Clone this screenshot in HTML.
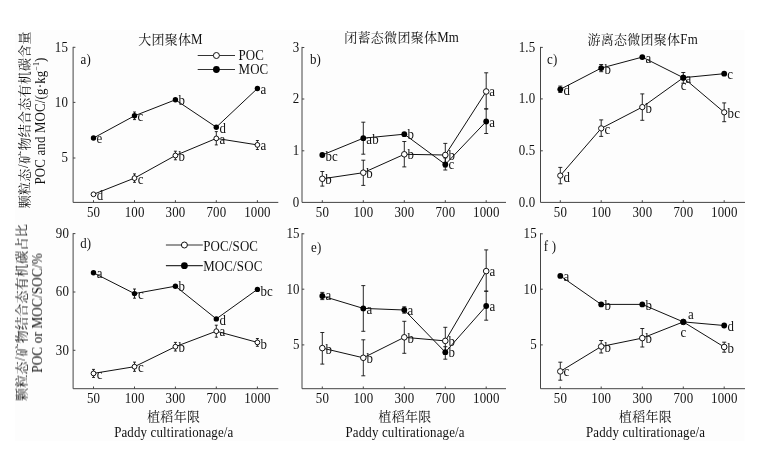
<!DOCTYPE html>
<html><head><meta charset="utf-8"><title>chart</title>
<style>
html,body{margin:0;padding:0;background:#fff;}
body{width:767px;height:449px;overflow:hidden;font-family:"Liberation Serif",serif;}
svg{display:block;will-change:transform;}
svg text{font-family:"Liberation Serif",serif;fill:#111;}
svg text.cjk{font-family:"Liberation Serif","Noto Serif CJK SC",serif;}
</style></head><body>
<svg width="767" height="449" viewBox="0 0 767 449">
<g fill="#111">
<rect x="15" y="30" width="729.5" height="411" fill="#fdfdfd"/>
<path d="M73.10 46.90V202.40H278.30" stroke="#444" stroke-width="1.0" fill="none"/>
<path d="M73.10 47.30h2.3M73.10 102.40h2.3M73.10 158.00h2.3M93.50 202.40v-2.2M134.50 202.40v-2.2M175.40 202.40v-2.2M216.30 202.40v-2.2M257.40 202.40v-2.2" stroke="#444" stroke-width="1" fill="none"/>
<text transform="translate(68.06,51.70) scale(0.91,1)" font-size="14.20" letter-spacing="0.176" text-anchor="end" >15</text>
<text transform="translate(68.06,106.80) scale(0.91,1)" font-size="14.20" letter-spacing="0.176" text-anchor="end" >10</text>
<text transform="translate(68.06,162.40) scale(0.91,1)" font-size="14.20" letter-spacing="0.176" text-anchor="end" >5</text>
<text transform="translate(93.58,217.20) scale(0.91,1)" font-size="14.20" letter-spacing="0.176" text-anchor="middle" >50</text>
<text transform="translate(134.58,217.20) scale(0.91,1)" font-size="14.20" letter-spacing="0.176" text-anchor="middle" >100</text>
<text transform="translate(175.48,217.20) scale(0.91,1)" font-size="14.20" letter-spacing="0.176" text-anchor="middle" >300</text>
<text transform="translate(216.38,217.20) scale(0.91,1)" font-size="14.20" letter-spacing="0.176" text-anchor="middle" >700</text>
<text transform="translate(257.48,217.20) scale(0.91,1)" font-size="14.20" letter-spacing="0.176" text-anchor="middle" >1000</text>
<path d="M93.50 194.30 L134.50 178.10 L175.40 155.50 L216.30 138.40 L257.40 144.90" stroke="#111" stroke-width="1.0" fill="none"/>
<path d="M93.50 138.00 L134.50 115.80 L175.40 99.80 L216.30 127.20 L257.40 88.50" stroke="#111" stroke-width="1.0" fill="none"/>
<path d="M134.50 173.90V182.30M133.00 173.90H136.00M133.00 182.30H136.00" stroke="#111" stroke-width="0.9" fill="none"/>
<path d="M175.40 151.20V159.80M173.90 151.20H176.90M173.90 159.80H176.90" stroke="#111" stroke-width="0.9" fill="none"/>
<path d="M216.30 131.60V144.90M214.80 131.60H217.80M214.80 144.90H217.80" stroke="#111" stroke-width="0.9" fill="none"/>
<path d="M257.40 140.50V149.50M255.90 140.50H258.90M255.90 149.50H258.90" stroke="#111" stroke-width="0.9" fill="none"/>
<path d="M134.50 112.00V119.60M133.00 112.00H136.00M133.00 119.60H136.00" stroke="#111" stroke-width="0.9" fill="none"/>
<circle cx="93.50" cy="194.30" r="2.4" fill="#fff" stroke="#111" stroke-width="1"/>
<circle cx="134.50" cy="178.10" r="2.4" fill="#fff" stroke="#111" stroke-width="1"/>
<circle cx="175.40" cy="155.50" r="2.4" fill="#fff" stroke="#111" stroke-width="1"/>
<circle cx="216.30" cy="138.40" r="2.4" fill="#fff" stroke="#111" stroke-width="1"/>
<circle cx="257.40" cy="144.90" r="2.4" fill="#fff" stroke="#111" stroke-width="1"/>
<circle cx="93.50" cy="138.00" r="2.7" fill="#000"/>
<circle cx="134.50" cy="115.80" r="2.7" fill="#000"/>
<circle cx="175.40" cy="99.80" r="2.7" fill="#000"/>
<circle cx="216.30" cy="127.20" r="2.7" fill="#000"/>
<circle cx="257.40" cy="88.50" r="2.7" fill="#000"/>
<text transform="translate(96.60,143.40) scale(0.91,1)" font-size="14.20" letter-spacing="0.176" text-anchor="start" >e</text>
<text transform="translate(137.60,121.00) scale(0.91,1)" font-size="14.20" letter-spacing="0.176" text-anchor="start" >c</text>
<text transform="translate(178.40,104.90) scale(0.91,1)" font-size="14.20" letter-spacing="0.176" text-anchor="start" >b</text>
<text transform="translate(219.40,132.50) scale(0.91,1)" font-size="14.20" letter-spacing="0.176" text-anchor="start" >d</text>
<text transform="translate(260.40,93.70) scale(0.91,1)" font-size="14.20" letter-spacing="0.176" text-anchor="start" >a</text>
<text transform="translate(96.80,199.80) scale(0.91,1)" font-size="14.20" letter-spacing="0.176" text-anchor="start" >d</text>
<text transform="translate(137.80,183.50) scale(0.91,1)" font-size="14.20" letter-spacing="0.176" text-anchor="start" >c</text>
<text transform="translate(178.40,161.20) scale(0.91,1)" font-size="14.20" letter-spacing="0.176" text-anchor="start" >b</text>
<text transform="translate(219.60,143.50) scale(0.91,1)" font-size="14.20" letter-spacing="0.176" text-anchor="start" >a</text>
<text transform="translate(260.40,150.20) scale(0.91,1)" font-size="14.20" letter-spacing="0.176" text-anchor="start" >a</text>
<text transform="translate(80.60,63.50) scale(0.91,1)" font-size="14.20" letter-spacing="0.176" text-anchor="start" >a)</text>
<path d="M302.00 46.90V202.40H506.00" stroke="#444" stroke-width="1.0" fill="none"/>
<path d="M302.00 47.50h2.3M302.00 99.00h2.3M302.00 150.80h2.3M322.30 202.40v-2.2M363.30 202.40v-2.2M404.30 202.40v-2.2M445.30 202.40v-2.2M486.20 202.40v-2.2" stroke="#444" stroke-width="1" fill="none"/>
<text transform="translate(299.36,51.90) scale(0.91,1)" font-size="14.20" letter-spacing="0.176" text-anchor="end" >3</text>
<text transform="translate(299.36,103.40) scale(0.91,1)" font-size="14.20" letter-spacing="0.176" text-anchor="end" >2</text>
<text transform="translate(299.36,155.20) scale(0.91,1)" font-size="14.20" letter-spacing="0.176" text-anchor="end" >1</text>
<text transform="translate(299.36,206.80) scale(0.91,1)" font-size="14.20" letter-spacing="0.176" text-anchor="end" >0</text>
<text transform="translate(322.38,217.20) scale(0.91,1)" font-size="14.20" letter-spacing="0.176" text-anchor="middle" >50</text>
<text transform="translate(363.38,217.20) scale(0.91,1)" font-size="14.20" letter-spacing="0.176" text-anchor="middle" >100</text>
<text transform="translate(404.38,217.20) scale(0.91,1)" font-size="14.20" letter-spacing="0.176" text-anchor="middle" >300</text>
<text transform="translate(445.38,217.20) scale(0.91,1)" font-size="14.20" letter-spacing="0.176" text-anchor="middle" >700</text>
<text transform="translate(486.28,217.20) scale(0.91,1)" font-size="14.20" letter-spacing="0.176" text-anchor="middle" >1000</text>
<path d="M322.30 178.80 L363.30 172.70 L404.30 154.30 L445.30 155.00 L486.20 91.50" stroke="#111" stroke-width="1.0" fill="none"/>
<path d="M322.30 155.00 L363.30 138.20 L404.30 134.20 L445.30 164.40 L486.20 121.50" stroke="#111" stroke-width="1.0" fill="none"/>
<path d="M322.30 171.50V186.10M320.30 171.50H324.30M320.30 186.10H324.30" stroke="#111" stroke-width="0.9" fill="none"/>
<path d="M363.30 160.20V185.40M361.30 160.20H365.30M361.30 185.40H365.30" stroke="#111" stroke-width="0.9" fill="none"/>
<path d="M404.30 141.50V166.90M402.30 141.50H406.30M402.30 166.90H406.30" stroke="#111" stroke-width="0.9" fill="none"/>
<path d="M445.30 143.40V167.00M443.30 143.40H447.30M443.30 167.00H447.30" stroke="#111" stroke-width="0.9" fill="none"/>
<path d="M486.20 72.80V108.90M484.20 72.80H488.20M484.20 108.90H488.20" stroke="#111" stroke-width="0.9" fill="none"/>
<path d="M363.30 122.20V154.20M361.30 122.20H365.30M361.30 154.20H365.30" stroke="#111" stroke-width="0.9" fill="none"/>
<path d="M445.30 157.90V170.00M443.30 157.90H447.30M443.30 170.00H447.30" stroke="#111" stroke-width="0.9" fill="none"/>
<path d="M486.20 108.90V133.50M484.20 108.90H488.20M484.20 133.50H488.20" stroke="#111" stroke-width="0.9" fill="none"/>
<circle cx="322.30" cy="178.80" r="2.8" fill="#fff" stroke="#111" stroke-width="1"/>
<circle cx="363.30" cy="172.70" r="2.8" fill="#fff" stroke="#111" stroke-width="1"/>
<circle cx="404.30" cy="154.30" r="2.8" fill="#fff" stroke="#111" stroke-width="1"/>
<circle cx="445.30" cy="155.00" r="2.8" fill="#fff" stroke="#111" stroke-width="1"/>
<circle cx="486.20" cy="91.50" r="2.8" fill="#fff" stroke="#111" stroke-width="1"/>
<circle cx="322.30" cy="155.00" r="2.9" fill="#000"/>
<circle cx="363.30" cy="138.20" r="2.9" fill="#000"/>
<circle cx="404.30" cy="134.20" r="2.9" fill="#000"/>
<circle cx="445.30" cy="164.40" r="2.9" fill="#000"/>
<circle cx="486.20" cy="121.50" r="2.9" fill="#000"/>
<text transform="translate(325.50,160.70) scale(0.91,1)" font-size="14.20" letter-spacing="0.176" text-anchor="start" >bc</text>
<text transform="translate(366.30,144.00) scale(0.91,1)" font-size="14.20" letter-spacing="0.176" text-anchor="start" >ab</text>
<text transform="translate(407.40,139.00) scale(0.91,1)" font-size="14.20" letter-spacing="0.176" text-anchor="start" >b</text>
<text transform="translate(448.50,169.20) scale(0.91,1)" font-size="14.20" letter-spacing="0.176" text-anchor="start" >c</text>
<text transform="translate(489.30,126.70) scale(0.91,1)" font-size="14.20" letter-spacing="0.176" text-anchor="start" >a</text>
<text transform="translate(325.30,184.00) scale(0.91,1)" font-size="14.20" letter-spacing="0.176" text-anchor="start" >b</text>
<text transform="translate(366.30,177.70) scale(0.91,1)" font-size="14.20" letter-spacing="0.176" text-anchor="start" >b</text>
<text transform="translate(407.40,159.40) scale(0.91,1)" font-size="14.20" letter-spacing="0.176" text-anchor="start" >b</text>
<text transform="translate(448.50,160.20) scale(0.91,1)" font-size="14.20" letter-spacing="0.176" text-anchor="start" >b</text>
<text transform="translate(489.30,96.20) scale(0.91,1)" font-size="14.20" letter-spacing="0.176" text-anchor="start" >a</text>
<text transform="translate(310.00,63.50) scale(0.91,1)" font-size="14.20" letter-spacing="0.176" text-anchor="start" >b)</text>
<path d="M540.50 46.90V202.40H745.00" stroke="#444" stroke-width="1.0" fill="none"/>
<path d="M540.50 47.40h2.3M540.50 98.90h2.3M540.50 150.80h2.3M560.30 202.40v-2.2M601.20 202.40v-2.2M642.30 202.40v-2.2M683.30 202.40v-2.2M724.20 202.40v-2.2" stroke="#444" stroke-width="1" fill="none"/>
<text transform="translate(535.36,51.80) scale(0.91,1)" font-size="14.20" letter-spacing="0.176" text-anchor="end" >1.5</text>
<text transform="translate(535.36,103.30) scale(0.91,1)" font-size="14.20" letter-spacing="0.176" text-anchor="end" >1.0</text>
<text transform="translate(535.36,155.20) scale(0.91,1)" font-size="14.20" letter-spacing="0.176" text-anchor="end" >0.5</text>
<text transform="translate(535.36,206.80) scale(0.91,1)" font-size="14.20" letter-spacing="0.176" text-anchor="end" >0.0</text>
<text transform="translate(560.38,217.20) scale(0.91,1)" font-size="14.20" letter-spacing="0.176" text-anchor="middle" >50</text>
<text transform="translate(601.28,217.20) scale(0.91,1)" font-size="14.20" letter-spacing="0.176" text-anchor="middle" >100</text>
<text transform="translate(642.38,217.20) scale(0.91,1)" font-size="14.20" letter-spacing="0.176" text-anchor="middle" >300</text>
<text transform="translate(683.38,217.20) scale(0.91,1)" font-size="14.20" letter-spacing="0.176" text-anchor="middle" >700</text>
<text transform="translate(724.28,217.20) scale(0.91,1)" font-size="14.20" letter-spacing="0.176" text-anchor="middle" >1000</text>
<path d="M560.30 175.60 L601.20 128.40 L642.30 107.10 L683.30 77.70 L724.20 112.30" stroke="#111" stroke-width="1.0" fill="none"/>
<path d="M560.30 89.30 L601.20 68.10 L642.30 57.10 L683.30 77.70 L724.20 73.70" stroke="#111" stroke-width="1.0" fill="none"/>
<path d="M560.30 167.40V183.80M558.30 167.40H562.30M558.30 183.80H562.30" stroke="#111" stroke-width="0.9" fill="none"/>
<path d="M601.20 119.90V136.40M599.20 119.90H603.20M599.20 136.40H603.20" stroke="#111" stroke-width="0.9" fill="none"/>
<path d="M642.30 93.90V120.30M640.30 93.90H644.30M640.30 120.30H644.30" stroke="#111" stroke-width="0.9" fill="none"/>
<path d="M683.30 72.50V83.20M681.30 72.50H685.30M681.30 83.20H685.30" stroke="#111" stroke-width="0.9" fill="none"/>
<path d="M724.20 102.90V121.70M722.20 102.90H726.20M722.20 121.70H726.20" stroke="#111" stroke-width="0.9" fill="none"/>
<path d="M560.30 86.10V92.50M558.30 86.10H562.30M558.30 92.50H562.30" stroke="#111" stroke-width="0.9" fill="none"/>
<path d="M601.20 64.50V71.70M599.20 64.50H603.20M599.20 71.70H603.20" stroke="#111" stroke-width="0.9" fill="none"/>
<circle cx="560.30" cy="175.60" r="2.65" fill="#fff" stroke="#111" stroke-width="1"/>
<circle cx="601.20" cy="128.40" r="2.65" fill="#fff" stroke="#111" stroke-width="1"/>
<circle cx="642.30" cy="107.10" r="2.65" fill="#fff" stroke="#111" stroke-width="1"/>
<circle cx="683.30" cy="77.70" r="2.65" fill="#fff" stroke="#111" stroke-width="1"/>
<circle cx="724.20" cy="112.30" r="2.65" fill="#fff" stroke="#111" stroke-width="1"/>
<circle cx="560.30" cy="89.30" r="2.9" fill="#000"/>
<circle cx="601.20" cy="68.10" r="2.9" fill="#000"/>
<circle cx="642.30" cy="57.10" r="2.9" fill="#000"/>
<circle cx="683.30" cy="77.70" r="2.9" fill="#000"/>
<circle cx="724.20" cy="73.70" r="2.9" fill="#000"/>
<text transform="translate(563.40,95.00) scale(0.91,1)" font-size="14.20" letter-spacing="0.176" text-anchor="start" >d</text>
<text transform="translate(604.40,73.80) scale(0.91,1)" font-size="14.20" letter-spacing="0.176" text-anchor="start" >b</text>
<text transform="translate(645.40,62.60) scale(0.91,1)" font-size="14.20" letter-spacing="0.176" text-anchor="start" >a</text>
<text transform="translate(685.40,83.30) scale(0.91,1)" font-size="14.20" letter-spacing="0.176" text-anchor="start" >a</text>
<text transform="translate(727.30,79.00) scale(0.91,1)" font-size="14.20" letter-spacing="0.176" text-anchor="start" >c</text>
<text transform="translate(563.40,181.60) scale(0.91,1)" font-size="14.20" letter-spacing="0.176" text-anchor="start" >d</text>
<text transform="translate(604.40,133.80) scale(0.91,1)" font-size="14.20" letter-spacing="0.176" text-anchor="start" >c</text>
<text transform="translate(645.40,112.80) scale(0.91,1)" font-size="14.20" letter-spacing="0.176" text-anchor="start" >b</text>
<text transform="translate(680.80,90.00) scale(0.91,1)" font-size="14.20" letter-spacing="0.176" text-anchor="start" >c</text>
<text transform="translate(727.60,118.00) scale(0.91,1)" font-size="14.20" letter-spacing="0.176" text-anchor="start" >bc</text>
<text transform="translate(547.00,63.80) scale(0.91,1)" font-size="14.20" letter-spacing="0.176" text-anchor="start" >c)</text>
<path d="M73.10 233.20V388.70H278.30" stroke="#444" stroke-width="1.0" fill="none"/>
<path d="M73.10 233.60h2.3M73.10 292.00h2.3M73.10 350.30h2.3M93.50 388.70v-2.2M134.50 388.70v-2.2M175.40 388.70v-2.2M216.30 388.70v-2.2M257.40 388.70v-2.2" stroke="#444" stroke-width="1" fill="none"/>
<text transform="translate(69.06,238.00) scale(0.91,1)" font-size="14.20" letter-spacing="0.176" text-anchor="end" >90</text>
<text transform="translate(69.06,296.40) scale(0.91,1)" font-size="14.20" letter-spacing="0.176" text-anchor="end" >60</text>
<text transform="translate(69.06,354.70) scale(0.91,1)" font-size="14.20" letter-spacing="0.176" text-anchor="end" >30</text>
<text transform="translate(93.58,403.20) scale(0.91,1)" font-size="14.20" letter-spacing="0.176" text-anchor="middle" >50</text>
<text transform="translate(134.58,403.20) scale(0.91,1)" font-size="14.20" letter-spacing="0.176" text-anchor="middle" >100</text>
<text transform="translate(175.48,403.20) scale(0.91,1)" font-size="14.20" letter-spacing="0.176" text-anchor="middle" >300</text>
<text transform="translate(216.38,403.20) scale(0.91,1)" font-size="14.20" letter-spacing="0.176" text-anchor="middle" >700</text>
<text transform="translate(257.48,403.20) scale(0.91,1)" font-size="14.20" letter-spacing="0.176" text-anchor="middle" >1000</text>
<path d="M93.50 373.40 L134.50 366.70 L175.40 346.70 L216.30 331.20 L257.40 342.40" stroke="#111" stroke-width="1.0" fill="none"/>
<path d="M93.50 272.80 L134.50 293.60 L175.40 286.20 L216.30 318.90 L257.40 289.40" stroke="#111" stroke-width="1.0" fill="none"/>
<path d="M93.50 369.40V377.40M92.00 369.40H95.00M92.00 377.40H95.00" stroke="#111" stroke-width="0.9" fill="none"/>
<path d="M134.50 362.10V371.30M133.00 362.10H136.00M133.00 371.30H136.00" stroke="#111" stroke-width="0.9" fill="none"/>
<path d="M175.40 342.40V351.00M173.90 342.40H176.90M173.90 351.00H176.90" stroke="#111" stroke-width="0.9" fill="none"/>
<path d="M216.30 325.20V337.20M214.80 325.20H217.80M214.80 337.20H217.80" stroke="#111" stroke-width="0.9" fill="none"/>
<path d="M257.40 338.50V346.30M255.90 338.50H258.90M255.90 346.30H258.90" stroke="#111" stroke-width="0.9" fill="none"/>
<path d="M134.50 289.00V298.20M133.00 289.00H136.00M133.00 298.20H136.00" stroke="#111" stroke-width="0.9" fill="none"/>
<circle cx="93.50" cy="373.40" r="2.4" fill="#fff" stroke="#111" stroke-width="1"/>
<circle cx="134.50" cy="366.70" r="2.4" fill="#fff" stroke="#111" stroke-width="1"/>
<circle cx="175.40" cy="346.70" r="2.4" fill="#fff" stroke="#111" stroke-width="1"/>
<circle cx="216.30" cy="331.20" r="2.4" fill="#fff" stroke="#111" stroke-width="1"/>
<circle cx="257.40" cy="342.40" r="2.4" fill="#fff" stroke="#111" stroke-width="1"/>
<circle cx="93.50" cy="272.80" r="2.7" fill="#000"/>
<circle cx="134.50" cy="293.60" r="2.7" fill="#000"/>
<circle cx="175.40" cy="286.20" r="2.7" fill="#000"/>
<circle cx="216.30" cy="318.90" r="2.7" fill="#000"/>
<circle cx="257.40" cy="289.40" r="2.7" fill="#000"/>
<text transform="translate(96.80,278.00) scale(0.91,1)" font-size="14.20" letter-spacing="0.176" text-anchor="start" >a</text>
<text transform="translate(138.00,299.30) scale(0.91,1)" font-size="14.20" letter-spacing="0.176" text-anchor="start" >c</text>
<text transform="translate(178.60,291.40) scale(0.91,1)" font-size="14.20" letter-spacing="0.176" text-anchor="start" >b</text>
<text transform="translate(219.60,325.20) scale(0.91,1)" font-size="14.20" letter-spacing="0.176" text-anchor="start" >d</text>
<text transform="translate(260.50,295.50) scale(0.91,1)" font-size="14.20" letter-spacing="0.176" text-anchor="start" >bc</text>
<text transform="translate(96.80,378.60) scale(0.91,1)" font-size="14.20" letter-spacing="0.176" text-anchor="start" >c</text>
<text transform="translate(138.00,372.30) scale(0.91,1)" font-size="14.20" letter-spacing="0.176" text-anchor="start" >c</text>
<text transform="translate(178.60,352.00) scale(0.91,1)" font-size="14.20" letter-spacing="0.176" text-anchor="start" >b</text>
<text transform="translate(219.60,336.20) scale(0.91,1)" font-size="14.20" letter-spacing="0.176" text-anchor="start" >a</text>
<text transform="translate(260.50,348.50) scale(0.91,1)" font-size="14.20" letter-spacing="0.176" text-anchor="start" >b</text>
<text transform="translate(80.20,248.00) scale(0.91,1)" font-size="14.20" letter-spacing="0.176" text-anchor="start" >d)</text>
<path d="M302.00 233.20V388.70H506.00" stroke="#444" stroke-width="1.0" fill="none"/>
<path d="M302.00 233.80h2.3M302.00 289.20h2.3M302.00 344.90h2.3M322.30 388.70v-2.2M363.30 388.70v-2.2M404.30 388.70v-2.2M445.30 388.70v-2.2M486.20 388.70v-2.2" stroke="#444" stroke-width="1" fill="none"/>
<text transform="translate(299.66,238.20) scale(0.91,1)" font-size="14.20" letter-spacing="0.176" text-anchor="end" >15</text>
<text transform="translate(299.66,293.60) scale(0.91,1)" font-size="14.20" letter-spacing="0.176" text-anchor="end" >10</text>
<text transform="translate(299.66,349.30) scale(0.91,1)" font-size="14.20" letter-spacing="0.176" text-anchor="end" >5</text>
<text transform="translate(322.38,403.20) scale(0.91,1)" font-size="14.20" letter-spacing="0.176" text-anchor="middle" >50</text>
<text transform="translate(363.38,403.20) scale(0.91,1)" font-size="14.20" letter-spacing="0.176" text-anchor="middle" >100</text>
<text transform="translate(404.38,403.20) scale(0.91,1)" font-size="14.20" letter-spacing="0.176" text-anchor="middle" >300</text>
<text transform="translate(445.38,403.20) scale(0.91,1)" font-size="14.20" letter-spacing="0.176" text-anchor="middle" >700</text>
<text transform="translate(486.28,403.20) scale(0.91,1)" font-size="14.20" letter-spacing="0.176" text-anchor="middle" >1000</text>
<path d="M322.30 348.10 L363.30 357.80 L404.30 337.30 L445.30 340.90 L486.20 271.10" stroke="#111" stroke-width="1.0" fill="none"/>
<path d="M322.30 296.00 L363.30 308.40 L404.30 310.00 L445.30 352.20 L486.20 306.00" stroke="#111" stroke-width="1.0" fill="none"/>
<path d="M322.30 332.50V364.10M320.30 332.50H324.30M320.30 364.10H324.30" stroke="#111" stroke-width="0.9" fill="none"/>
<path d="M363.30 339.80V375.80M361.30 339.80H365.30M361.30 375.80H365.30" stroke="#111" stroke-width="0.9" fill="none"/>
<path d="M404.30 321.30V353.30M402.30 321.30H406.30M402.30 353.30H406.30" stroke="#111" stroke-width="0.9" fill="none"/>
<path d="M445.30 327.30V354.20M443.30 327.30H447.30M443.30 354.20H447.30" stroke="#111" stroke-width="0.9" fill="none"/>
<path d="M486.20 249.90V291.20M484.20 249.90H488.20M484.20 291.20H488.20" stroke="#111" stroke-width="0.9" fill="none"/>
<path d="M322.30 292.40V299.60M320.30 292.40H324.30M320.30 299.60H324.30" stroke="#111" stroke-width="0.9" fill="none"/>
<path d="M363.30 285.60V331.30M361.30 285.60H365.30M361.30 331.30H365.30" stroke="#111" stroke-width="0.9" fill="none"/>
<path d="M404.30 306.80V313.20M402.30 306.80H406.30M402.30 313.20H406.30" stroke="#111" stroke-width="0.9" fill="none"/>
<path d="M445.30 346.70V359.20M443.30 346.70H447.30M443.30 359.20H447.30" stroke="#111" stroke-width="0.9" fill="none"/>
<path d="M486.20 291.20V320.20M484.20 291.20H488.20M484.20 320.20H488.20" stroke="#111" stroke-width="0.9" fill="none"/>
<circle cx="322.30" cy="348.10" r="2.8" fill="#fff" stroke="#111" stroke-width="1"/>
<circle cx="363.30" cy="357.80" r="2.8" fill="#fff" stroke="#111" stroke-width="1"/>
<circle cx="404.30" cy="337.30" r="2.8" fill="#fff" stroke="#111" stroke-width="1"/>
<circle cx="445.30" cy="340.90" r="2.8" fill="#fff" stroke="#111" stroke-width="1"/>
<circle cx="486.20" cy="271.10" r="2.8" fill="#fff" stroke="#111" stroke-width="1"/>
<circle cx="322.30" cy="296.00" r="2.9" fill="#000"/>
<circle cx="363.30" cy="308.40" r="2.9" fill="#000"/>
<circle cx="404.30" cy="310.00" r="2.9" fill="#000"/>
<circle cx="445.30" cy="352.20" r="2.9" fill="#000"/>
<circle cx="486.20" cy="306.00" r="2.9" fill="#000"/>
<text transform="translate(325.50,300.40) scale(0.91,1)" font-size="14.20" letter-spacing="0.176" text-anchor="start" >a</text>
<text transform="translate(366.50,313.60) scale(0.91,1)" font-size="14.20" letter-spacing="0.176" text-anchor="start" >a</text>
<text transform="translate(407.50,315.20) scale(0.91,1)" font-size="14.20" letter-spacing="0.176" text-anchor="start" >a</text>
<text transform="translate(448.50,357.10) scale(0.91,1)" font-size="14.20" letter-spacing="0.176" text-anchor="start" >b</text>
<text transform="translate(489.50,311.20) scale(0.91,1)" font-size="14.20" letter-spacing="0.176" text-anchor="start" >a</text>
<text transform="translate(325.50,353.50) scale(0.91,1)" font-size="14.20" letter-spacing="0.176" text-anchor="start" >b</text>
<text transform="translate(366.50,363.00) scale(0.91,1)" font-size="14.20" letter-spacing="0.176" text-anchor="start" >b</text>
<text transform="translate(407.50,342.50) scale(0.91,1)" font-size="14.20" letter-spacing="0.176" text-anchor="start" >b</text>
<text transform="translate(448.50,345.60) scale(0.91,1)" font-size="14.20" letter-spacing="0.176" text-anchor="start" >b</text>
<text transform="translate(489.50,276.20) scale(0.91,1)" font-size="14.20" letter-spacing="0.176" text-anchor="start" >a</text>
<text transform="translate(311.00,251.80) scale(0.91,1)" font-size="14.20" letter-spacing="0.176" text-anchor="start" >e)</text>
<path d="M540.50 233.20V388.70H745.00" stroke="#444" stroke-width="1.0" fill="none"/>
<path d="M540.50 233.80h2.3M540.50 289.20h2.3M540.50 344.90h2.3M560.30 388.70v-2.2M601.20 388.70v-2.2M642.30 388.70v-2.2M683.30 388.70v-2.2M724.20 388.70v-2.2" stroke="#444" stroke-width="1" fill="none"/>
<text transform="translate(536.86,238.20) scale(0.91,1)" font-size="14.20" letter-spacing="0.176" text-anchor="end" >15</text>
<text transform="translate(536.86,293.60) scale(0.91,1)" font-size="14.20" letter-spacing="0.176" text-anchor="end" >10</text>
<text transform="translate(536.86,349.30) scale(0.91,1)" font-size="14.20" letter-spacing="0.176" text-anchor="end" >5</text>
<text transform="translate(560.38,403.20) scale(0.91,1)" font-size="14.20" letter-spacing="0.176" text-anchor="middle" >50</text>
<text transform="translate(601.28,403.20) scale(0.91,1)" font-size="14.20" letter-spacing="0.176" text-anchor="middle" >100</text>
<text transform="translate(642.38,403.20) scale(0.91,1)" font-size="14.20" letter-spacing="0.176" text-anchor="middle" >300</text>
<text transform="translate(683.38,403.20) scale(0.91,1)" font-size="14.20" letter-spacing="0.176" text-anchor="middle" >700</text>
<text transform="translate(724.28,403.20) scale(0.91,1)" font-size="14.20" letter-spacing="0.176" text-anchor="middle" >1000</text>
<path d="M560.30 371.40 L601.20 346.50 L642.30 338.10 L683.30 321.90 L724.20 347.00" stroke="#111" stroke-width="1.0" fill="none"/>
<path d="M560.30 275.90 L601.20 304.40 L642.30 304.40 L683.30 321.90 L724.20 325.50" stroke="#111" stroke-width="1.0" fill="none"/>
<path d="M560.30 362.20V380.20M558.30 362.20H562.30M558.30 380.20H562.30" stroke="#111" stroke-width="0.9" fill="none"/>
<path d="M601.20 340.50V353.00M599.20 340.50H603.20M599.20 353.00H603.20" stroke="#111" stroke-width="0.9" fill="none"/>
<path d="M642.30 328.50V347.00M640.30 328.50H644.30M640.30 347.00H644.30" stroke="#111" stroke-width="0.9" fill="none"/>
<path d="M724.20 342.20V352.20M722.20 342.20H726.20M722.20 352.20H726.20" stroke="#111" stroke-width="0.9" fill="none"/>
<circle cx="560.30" cy="371.40" r="2.8" fill="#fff" stroke="#111" stroke-width="1"/>
<circle cx="601.20" cy="346.50" r="2.8" fill="#fff" stroke="#111" stroke-width="1"/>
<circle cx="642.30" cy="338.10" r="2.8" fill="#fff" stroke="#111" stroke-width="1"/>
<circle cx="683.30" cy="321.90" r="2.8" fill="#fff" stroke="#111" stroke-width="1"/>
<circle cx="724.20" cy="347.00" r="2.8" fill="#fff" stroke="#111" stroke-width="1"/>
<circle cx="560.30" cy="275.90" r="2.9" fill="#000"/>
<circle cx="601.20" cy="304.40" r="2.9" fill="#000"/>
<circle cx="642.30" cy="304.40" r="2.9" fill="#000"/>
<circle cx="683.30" cy="321.90" r="2.9" fill="#000"/>
<circle cx="724.20" cy="325.50" r="2.9" fill="#000"/>
<text transform="translate(563.50,280.50) scale(0.91,1)" font-size="14.20" letter-spacing="0.176" text-anchor="start" >a</text>
<text transform="translate(604.50,309.50) scale(0.91,1)" font-size="14.20" letter-spacing="0.176" text-anchor="start" >b</text>
<text transform="translate(645.50,309.50) scale(0.91,1)" font-size="14.20" letter-spacing="0.176" text-anchor="start" >b</text>
<text transform="translate(688.00,319.00) scale(0.91,1)" font-size="14.20" letter-spacing="0.176" text-anchor="start" >a</text>
<text transform="translate(727.50,330.50) scale(0.91,1)" font-size="14.20" letter-spacing="0.176" text-anchor="start" >d</text>
<text transform="translate(563.50,376.30) scale(0.91,1)" font-size="14.20" letter-spacing="0.176" text-anchor="start" >c</text>
<text transform="translate(604.50,351.50) scale(0.91,1)" font-size="14.20" letter-spacing="0.176" text-anchor="start" >b</text>
<text transform="translate(645.50,343.20) scale(0.91,1)" font-size="14.20" letter-spacing="0.176" text-anchor="start" >b</text>
<text transform="translate(680.50,336.50) scale(0.91,1)" font-size="14.20" letter-spacing="0.176" text-anchor="start" >c</text>
<text transform="translate(727.50,352.50) scale(0.91,1)" font-size="14.20" letter-spacing="0.176" text-anchor="start" >b</text>
<text transform="translate(543.80,251.20) scale(0.91,1)" font-size="14.20" letter-spacing="0.176" text-anchor="start" >f )</text>
<text class="cjk" x="138.30" y="43.80" font-size="13" letter-spacing="0.2" text-anchor="start">大团聚体</text>
<text transform="translate(191.10,43.80) scale(0.91,1)" font-size="14.20" letter-spacing="0.176" text-anchor="start" >M</text>
<text class="cjk" x="344.30" y="42.20" font-size="13" letter-spacing="0.27" text-anchor="start">闭蓄态微团聚体</text>
<text transform="translate(437.19,42.20) scale(0.91,1)" font-size="14.20" letter-spacing="0.176" text-anchor="start" >Mm</text>
<text class="cjk" x="587.60" y="43.80" font-size="13" letter-spacing="0.25" text-anchor="start">游离态微团聚体</text>
<text transform="translate(680.35,43.80) scale(0.91,1)" font-size="14.20" letter-spacing="0.176" text-anchor="start" >Fm</text>
<text class="cjk" x="147.00" y="421.20" font-size="13" letter-spacing="0.35" text-anchor="start">植稻年限</text>
<text transform="translate(173.78,436.80) scale(0.91,1)" font-size="14.20" letter-spacing="0.176" text-anchor="middle" >Paddy cultirationage/a</text>
<text class="cjk" x="378.30" y="421.20" font-size="13" letter-spacing="0.35" text-anchor="start">植稻年限</text>
<text transform="translate(405.08,436.80) scale(0.91,1)" font-size="14.20" letter-spacing="0.176" text-anchor="middle" >Paddy cultirationage/a</text>
<text class="cjk" x="618.80" y="421.20" font-size="13" letter-spacing="0.35" text-anchor="start">植稻年限</text>
<text transform="translate(645.58,436.80) scale(0.91,1)" font-size="14.20" letter-spacing="0.176" text-anchor="middle" >Paddy cultirationage/a</text>
<path d="M197.7 55.5H235.0" stroke="#333" stroke-width="1.2" fill="none"/>
<circle cx="216.4" cy="55.5" r="3.0" fill="#fff" stroke="#111" stroke-width="1"/>
<text transform="translate(238.50,59.60) scale(0.91,1)" font-size="14.20" letter-spacing="0.176" text-anchor="start" >POC</text>
<path d="M197.7 69.5H235.0" stroke="#333" stroke-width="1.2" fill="none"/>
<circle cx="216.4" cy="69.5" r="3.4" fill="#000"/>
<text transform="translate(238.50,73.50) scale(0.91,1)" font-size="14.20" letter-spacing="0.176" text-anchor="start" >MOC</text>
<path d="M165.9 245.0H202.8" stroke="#333" stroke-width="1.2" fill="none"/>
<circle cx="184.4" cy="245.0" r="3.0" fill="#fff" stroke="#111" stroke-width="1"/>
<text transform="translate(203.20,250.60) scale(0.91,1)" font-size="14.20" letter-spacing="0.176" text-anchor="start" >POC/SOC</text>
<path d="M165.9 265.7H202.8" stroke="#333" stroke-width="1.2" fill="none"/>
<circle cx="184.4" cy="265.7" r="3.4" fill="#000"/>
<text transform="translate(203.20,270.50) scale(0.91,1)" font-size="14.20" letter-spacing="0.176" text-anchor="start" >MOC/SOC</text>
<g transform="translate(0,119.8) rotate(-90)">
<text class="cjk" x="-88.42" y="28.90" font-size="13" letter-spacing="0.25" text-anchor="start">颗粒态</text>
<text transform="translate(-48.17,28.40) scale(0.91,1)" font-size="14.20" letter-spacing="0.176" text-anchor="start" >/</text>
<text class="cjk" x="-44.07" y="28.90" font-size="13" letter-spacing="0.25" text-anchor="start">矿物结合态有机碳含量</text>
<text transform="translate(-1.2,44.6) scale(0.91,1)" font-size="14.20" letter-spacing="0.176" text-anchor="middle">POC and MOC/(g·kg<tspan font-size="8.6" dy="-5.4">−1</tspan><tspan dy="5.4">)</tspan></text>
</g>
<g transform="translate(0,312.5) rotate(-90)">
<text class="cjk" x="-88.42" y="25.70" font-size="13" letter-spacing="0.25" text-anchor="start">颗粒态</text>
<text transform="translate(-48.17,25.20) scale(0.91,1)" font-size="14.20" letter-spacing="0.176" text-anchor="start" >/</text>
<text class="cjk" x="-44.07" y="25.70" font-size="13" letter-spacing="0.25" text-anchor="start">矿物结合态有机碳占比</text>
<text transform="translate(-0.5,42.3) scale(0.9282,1)" font-size="14.20" letter-spacing="0.176" text-anchor="middle">POC or MOC/SOC/%</text>
</g>
</g>
</svg>
</body></html>
